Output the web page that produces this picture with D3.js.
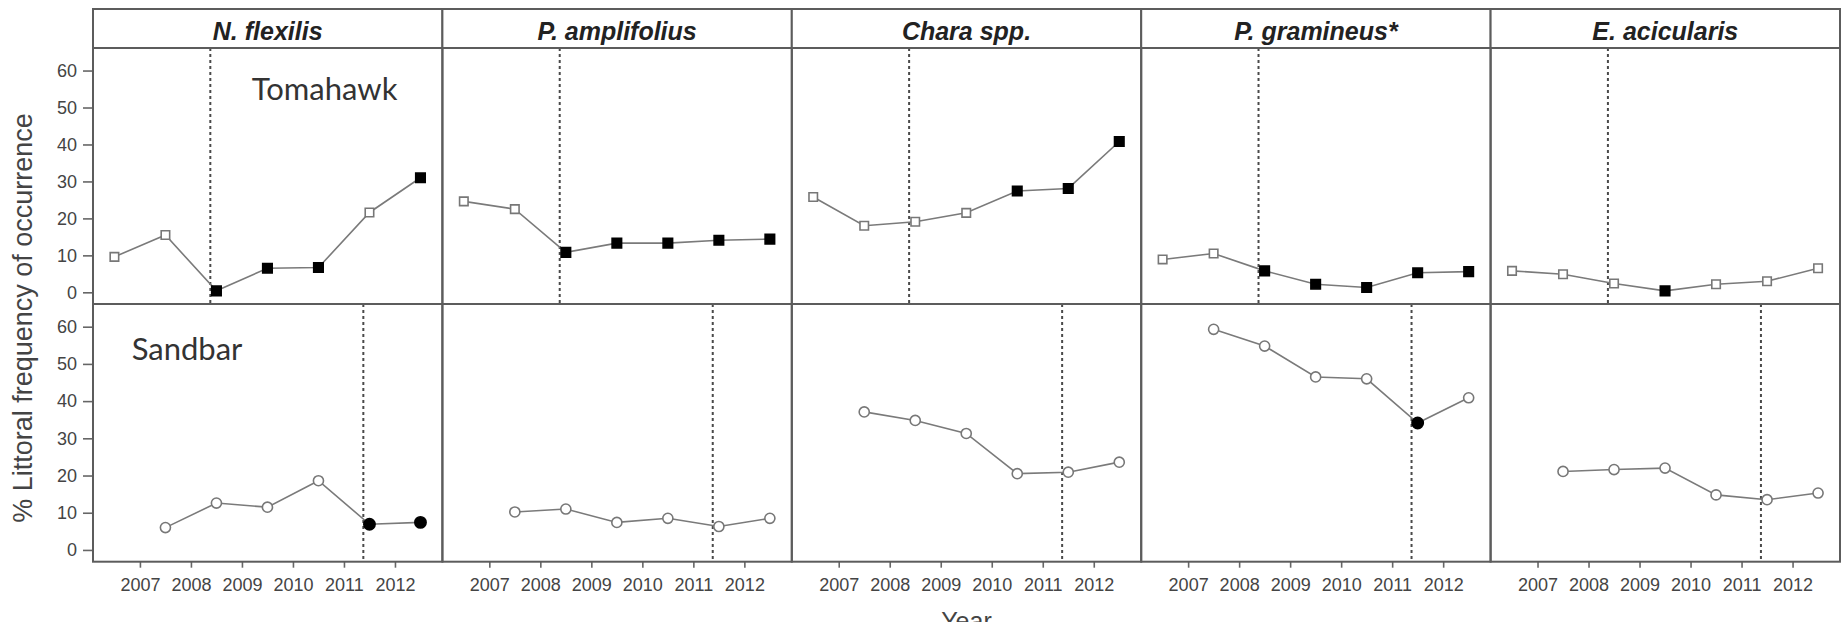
<!DOCTYPE html>
<html>
<head>
<meta charset="utf-8">
<script src="https://cdn.jsdelivr.net/npm/d3@7"></script>
<style>
    body { margin: 0; background: #fff; }
    .axis path { display: none; }
    .axis line { stroke: #666; stroke-width: 1.6; }
    .axis text { font-family: "Liberation Sans", Arial, sans-serif; font-size: 18px; fill: #444; }
</style>
</head>
<body>
<div class="chart"></div>
<script>
// panel titles (columns) and lakes (rows)
const species = ["N. flexilis", "P. amplifolius", "Chara spp.", "P. gramineus*", "E. acicularis"];
const sites = ["Tomahawk", "Sandbar"];

// tick labels
const yearTicks = [2007, 2008, 2009, 2010, 2011, 2012];
const freqTicks = [0, 10, 20, 30, 40, 50, 60];

// where the surveys sit on the year axis, and the treatment (dashed) line per lake
const surveyX = [2006.5, 2007.5, 2008.5, 2009.5, 2010.5, 2011.5, 2012.5];
const treatmentX = [2008.38, 2011.38];

// % littoral frequency, one list per species
const tomahawkValues = [
    [9.6, 15.5, 0.4, 6.5, 6.7, 21.6, 31.0],
    [24.6, 22.5, 10.8, 13.3, 13.3, 14.1, 14.4],
    [25.8, 18.0, 19.1, 21.5, 27.4, 28.1, 40.8],
    [8.9, 10.5, 5.8, 2.2, 1.3, 5.3, 5.6],
    [5.8, 4.9, 2.4, 0.4, 2.2, 3.0, 6.5]
];
// 1 = filled marker (significant), 0 = open
const tomahawkFilled = [
    [0, 0, 1, 1, 1, 0, 1],
    [0, 0, 1, 1, 1, 1, 1],
    [0, 0, 0, 0, 1, 1, 1],
    [0, 0, 1, 1, 1, 1, 1],
    [0, 0, 0, 1, 0, 0, 0]
];

const sandbarValues = [
    [null, 6.0, 12.6, 11.5, 18.6, 6.9, 7.4],
    [null, 10.2, 11.0, 7.4, 8.5, 6.3, 8.5],
    [null, 37.1, 34.8, 31.3, 20.5, 20.9, 23.6],
    [null, 59.3, 54.8, 46.5, 46.0, 34.1, 40.9],
    [null, 21.1, 21.6, 22.0, 14.8, 13.5, 15.3]
];
const sandbarFilled = [
    [0, 0, 0, 0, 0, 1, 1],
    [0, 0, 0, 0, 0, 0, 0],
    [0, 0, 0, 0, 0, 0, 0],
    [0, 0, 0, 0, 0, 1, 0],
    [0, 0, 0, 0, 0, 0, 0]
];

const rowValues = [tomahawkValues, sandbarValues];
const rowFilled = [tomahawkFilled, sandbarFilled];

// layout
const width = 1845, height = 622;
const left = 93, right = 1840;
const stripTop = 9, stripBottom = 48;
const rowTop = [48, 304];
const rowHeight = [256, 257.7];
const panelWidth = (right - left) / species.length;

const frameColor = "#5c5c5c";
const lineColor = "#7a7a7a";

const svg = d3.select(".chart").append("svg")
    .attr("width", width)
    .attr("height", height);

const x = d3.scaleLinear().domain([2006.08, 2012.93]).range([0, panelWidth]);

species.forEach((name, c) => {
    const px = left + c * panelWidth;

    // strip with the species name
    svg.append("rect")
        .attr("x", px).attr("y", stripTop)
        .attr("width", panelWidth).attr("height", stripBottom - stripTop)
        .attr("fill", "#fff")
        .attr("stroke", frameColor).attr("stroke-width", 2);

    svg.append("text")
        .attr("x", px + panelWidth / 2)
        .attr("y", 40)
        .attr("text-anchor", "middle")
        .style("font-family", "'Liberation Sans', Arial, sans-serif")
        .style("font-weight", "bold")
        .style("font-style", "italic")
        .style("font-size", "25px")
        .style("fill", "#222")
        .text(name);

    sites.forEach((site, r) => {
        const h = rowHeight[r];
        const y = d3.scaleLinear().domain([-3.16, 66.1]).range([h, 0]);
        const g = svg.append("g").attr("transform", `translate(${px}, ${rowTop[r]})`);

        const pts = surveyX.map((sx, i) => ({
            x: sx,
            v: rowValues[r][c][i],
            filled: rowFilled[r][c][i]
        })).filter(d => d.v != null);

        // treatment line
        g.append("line")
            .attr("x1", x(treatmentX[r])).attr("x2", x(treatmentX[r]))
            .attr("y1", 0).attr("y2", h)
            .attr("stroke", "#4a4a4a")
            .attr("stroke-width", 2)
            .attr("stroke-dasharray", "3,3");

        const line = d3.line()
            .x(d => x(d.x))
            .y(d => y(d.v));

        g.append("path")
            .datum(pts)
            .attr("d", line)
            .attr("fill", "none")
            .attr("stroke", lineColor)
            .attr("stroke-width", 1.6);

        // squares for Tomahawk, circles for Sandbar; filled ones drawn a bit bigger
        const shape = r === 0 ? d3.symbolSquare : d3.symbolCircle;
        const openSymbol = d3.symbol().type(shape).size(r === 0 ? 72 : 80);
        const filledSymbol = d3.symbol().type(shape).size(r === 0 ? 90 : 100);

        g.selectAll(".dot")
            .data(pts)
            .enter().append("path")
            .attr("class", "dot")
            .attr("transform", d => `translate(${x(d.x)}, ${y(d.v)})`)
            .attr("d", d => d.filled ? filledSymbol() : openSymbol())
            .attr("fill", d => d.filled ? "#000" : "#fff")
            .attr("stroke", d => d.filled ? "#000" : "#777")
            .attr("stroke-width", 1.6);

        if (c === 0) {
            g.append("g")
                .attr("class", "axis")
                .call(d3.axisLeft(y).tickValues(freqTicks).tickSize(10).tickPadding(6));
        }
        if (r === 1) {
            g.append("g")
                .attr("class", "axis")
                .attr("transform", `translate(0, ${h})`)
                .call(d3.axisBottom(x).tickValues(yearTicks).tickFormat(d3.format("d")).tickSize(6).tickPadding(11));
        }

        g.append("rect")
            .attr("width", panelWidth).attr("height", h)
            .attr("fill", "none")
            .attr("stroke", frameColor).attr("stroke-width", 2);
    });
});

// lake names inside the first column
const siteLabelPos = [[251.7, 100], [131.7, 360]];
sites.forEach((site, r) => {
    svg.append("text")
        .attr("x", siteLabelPos[r][0])
        .attr("y", siteLabelPos[r][1])
        .style("font-family", "Lato, 'Open Sans', sans-serif")
        .style("font-size", "31px")
        .style("fill", "#333")
        .text(site);
});

// axis titles
svg.append("text")
    .attr("transform", "translate(32, 318) rotate(-90)")
    .attr("text-anchor", "middle")
    .style("font-family", "'Liberation Sans', Arial, sans-serif")
    .style("font-size", "27px")
    .style("fill", "#444")
    .text("% Littoral frequency of occurrence");

// only the top of "Year" fits in the frame, as in the original figure
svg.append("text")
    .attr("x", (left + right) / 2)
    .attr("y", 630)
    .attr("text-anchor", "middle")
    .style("font-family", "'Liberation Sans', Arial, sans-serif")
    .style("font-size", "25px")
    .style("fill", "#444")
    .text("Year");
</script>
</body>
</html>
